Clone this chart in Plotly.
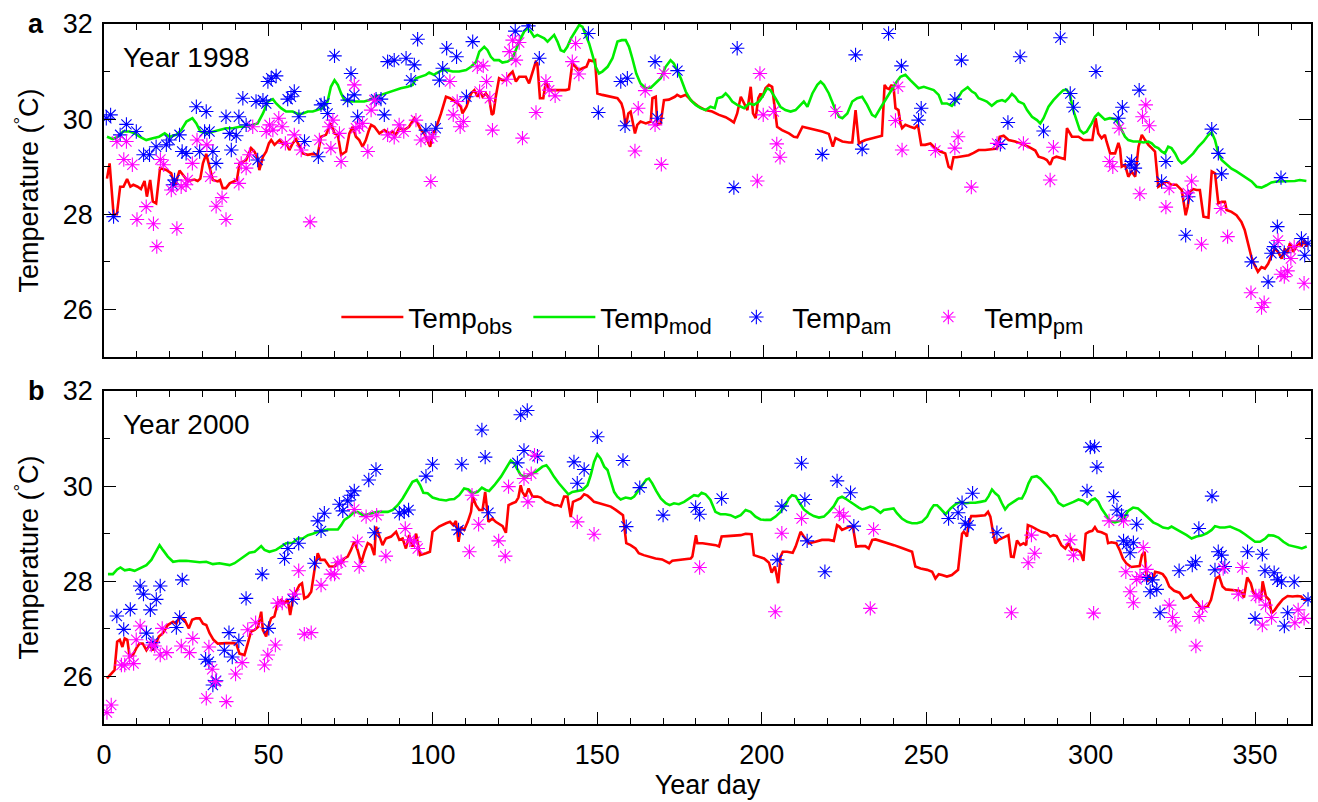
import plotly.graph_objects as go

# ---------------- Panel a : Year 1998 ----------------
obs98_day = [0.9,1.7,2.9,3.9,4.9,5.9,7.0,8.0,8.9,10.2,11.2,12.3,13.0,14.0,14.8,15.8,17.0,18.9,20.4,21.4,22.9,24.4,25.4,27.4,28.4,29.2,30.0,31.0,33.0,34.5,35.2,36.0,37.0,38.1,39.1,40.3,41.1,42.1,43.1,44.6,45.6,46.6,47.1,48.2,49.2,50.0,50.7,51.7,53.2,54.2,55.2,56.2,57.2,58.2,59.2,60.3,61.8,63.3,64.8,65.8,67.3,68.8,69.9,70.9,71.9,73.4,74.4,75.4,76.4,77.4,78.4,79.4,80.2,81.0,82.0,83.5,85.0,86.5,87.5,88.5,89.5,91.0,92.5,94.1,95.1,96.1,97.1,98.1,98.9,99.6,100.6,102.2,103.7,104.9,105.9,107.2,108.2,108.7,109.9,111.3,112.3,113.3,114.0,114.8,115.8,116.8,117.6,118.1,118.8,119.8,120.8,121.9,122.9,123.9,124.9,125.9,126.9,127.9,128.9,129.9,130.9,131.4,132.2,133.2,134.0,135.0,136.2,138.1,140.0,141.0,142.0,143.0,143.9,145.1,146.3,147.1,148.1,148.9,149.6,151.1,153.6,155.7,156.9,157.5,158.2,159.0,159.7,160.2,161.0,161.7,162.7,164.3,165.8,166.3,167.3,167.8,168.8,169.8,171.3,173.1,173.8,174.9,176.4,178.4,180.4,182.4,184.4,186.5,188.5,190.0,191.0,192.0,193.1,194.1,195.1,196.1,196.8,197.6,198.4,199.1,199.6,200.6,201.6,202.6,203.1,204.1,205.6,207.7,209.2,210.2,211.8,213.8,215.8,217.8,219.8,221.0,221.8,222.8,223.9,225.9,226.9,227.9,228.9,229.9,230.9,233.0,235.9,236.7,237.4,238.1,238.8,239.5,240.0,240.9,241.5,242.0,243.0,244.5,245.8,246.8,247.8,249.0,250.6,251.6,253.6,255.1,256.1,256.9,257.6,258.6,260.7,262.2,263.7,265.2,267.2,269.2,270.8,271.6,272.8,274.3,276.3,278.3,280.3,282.4,283.4,284.9,285.9,286.9,287.7,288.8,290.0,291.3,292.0,293.5,295.5,297.0,298.0,299.7,300.7,301.5,302.5,303.5,304.0,305.1,306.6,307.6,308.1,308.6,309.6,310.6,311.6,312.7,313.7,314.7,315.7,316.7,317.7,318.7,319.7,320.7,322.2,323.7,325.2,326.8,327.3,328.0,328.6,329.3,330.3,331.3,332.3,333.4,334.9,335.4,335.9,336.9,337.9,338.9,339.9,340.4,341.9,343.4,344.9,345.9,346.9,347.9,348.9,349.9,351.0,352.0,353.0,354.0,355.0,356.0,357.1,358.1,358.8,359.6,360.6,361.6,362.3,363.1,363.9,364.6,365.1]
obs98_temp = [28.75,29.07,28.0,28.0,28.58,28.58,28.74,28.58,28.62,28.58,28.53,28.70,28.37,28.72,28.27,28.23,28.97,28.93,28.86,28.58,28.92,28.80,28.70,28.73,28.70,28.75,29.07,29.27,28.72,28.69,28.72,28.55,28.55,28.65,28.69,28.72,29.07,29.11,29.14,29.39,29.32,29.18,28.93,29.21,29.32,29.49,29.56,29.46,29.56,29.48,29.51,29.35,29.49,29.58,29.42,29.28,29.25,29.27,29.25,29.63,29.67,29.91,29.70,29.67,29.25,29.32,29.70,29.84,29.63,29.56,29.42,29.56,29.74,29.88,29.84,29.70,29.77,29.70,29.74,29.67,29.81,29.77,29.84,30.02,29.91,29.77,29.70,29.56,29.42,29.67,29.80,30.12,30.47,30.44,30.40,30.33,30.26,30.12,30.26,30.54,30.61,30.47,30.61,30.47,30.54,30.44,30.09,30.12,30.47,30.86,30.82,30.82,30.93,31.00,30.79,30.89,30.89,30.89,30.75,30.96,31.20,31.17,30.44,30.44,30.79,30.61,30.61,30.61,30.61,30.63,31.17,31.10,31.03,31.07,31.10,31.24,31.22,31.24,30.54,30.51,30.47,30.44,30.33,30.19,29.84,30.12,30.16,29.95,29.70,29.88,29.95,29.91,29.95,30.44,30.47,29.88,29.91,30.40,30.41,30.47,30.51,30.47,30.51,30.37,30.26,30.19,30.16,30.09,30.04,29.98,29.93,30.12,30.47,30.33,30.19,30.68,30.12,30.02,30.44,30.54,30.46,30.65,30.72,30.68,30.40,29.84,29.77,29.70,29.63,29.62,29.84,29.81,29.77,29.74,29.69,29.42,29.60,29.56,29.53,29.51,29.51,30.19,29.49,29.53,29.56,29.60,29.65,30.72,30.65,30.63,30.72,30.61,30.23,30.19,29.91,29.81,29.88,29.84,29.81,29.88,29.46,29.46,29.49,29.42,29.32,29.28,29.00,28.96,29.20,29.20,29.22,29.24,29.29,29.35,29.35,29.37,29.38,29.63,29.65,29.56,29.53,29.48,29.42,29.34,29.21,29.18,29.14,29.04,29.18,29.21,29.18,29.16,29.81,29.63,29.63,29.56,29.56,29.56,30.02,29.70,29.60,29.67,29.53,29.28,29.28,29.50,29.38,29.00,29.04,28.79,28.90,28.79,29.42,29.67,29.56,29.46,29.39,29.32,28.58,28.62,28.69,28.62,28.62,28.51,28.30,27.98,28.16,28.48,28.53,28.51,28.51,27.95,27.93,28.44,28.90,28.86,28.23,28.26,28.26,28.09,28.05,27.98,27.84,27.67,27.39,27.11,26.93,26.79,26.89,26.86,26.96,27.11,27.28,27.21,27.07,27.28,27.18,27.39,27.21,27.32,27.42,27.32,27.46,27.32,27.42]

mod98_day = [0.9,2.7,4.2,5.8,7.8,9.3,10.8,12.8,14.8,16.7,18.4,19.9,21.9,23.4,25.0,26.8,28.0,29.2,31.0,33.0,35.0,37.0,39.1,41.1,43.1,45.1,46.6,48.2,49.7,51.2,52.2,53.7,55.2,57.2,58.8,60.3,61.8,63.3,64.8,66.3,67.8,68.8,69.9,70.9,71.9,72.9,74.4,75.9,77.4,78.9,80.5,82.0,84.0,86.0,88.0,90.0,92.1,93.6,94.6,96.1,97.6,98.6,100.1,100.6,101.6,102.6,104.1,105.7,107.7,109.8,111.3,112.8,113.8,115.3,116.3,117.3,118.3,119.8,120.8,122.4,123.9,124.9,125.9,127.4,128.4,129.4,130.4,131.4,132.4,133.5,134.5,135.5,136.5,137.5,138.5,139.5,140.5,141.6,143.1,144.1,145.1,146.1,147.1,148.1,149.1,150.1,151.1,152.7,154.2,155.7,157.0,158.2,159.2,160.2,161.4,162.7,164.3,165.8,167.3,168.8,170.3,171.8,172.8,173.8,174.9,176.4,177.9,179.4,180.9,182.4,183.9,185.2,186.0,187.5,188.5,189.5,190.5,192.0,194.1,195.6,197.1,198.6,199.6,201.1,202.1,203.6,205.1,206.6,208.2,209.7,211.2,212.2,213.3,214.8,216.3,217.3,218.3,219.8,221.4,222.9,223.9,225.4,226.9,228.4,229.9,231.4,232.9,233.9,235.4,236.9,238.4,240.0,241.5,243.0,244.5,246.0,247.0,248.6,250.0,251.6,253.1,254.1,255.6,257.1,258.6,260.1,261.9,263.2,264.2,265.2,266.7,267.7,269.2,270.8,272.3,273.3,274.3,275.3,276.3,277.3,278.9,279.9,281.4,282.9,283.9,284.9,286.4,287.9,289.4,290.9,291.9,292.9,293.9,294.9,295.9,297.0,298.0,299.5,300.5,301.5,302.5,303.5,305.0,306.6,307.6,308.6,309.6,310.6,312.1,313.6,315.2,316.7,317.7,318.7,319.7,320.7,321.7,322.7,323.7,324.8,325.8,326.8,327.8,328.8,330.3,331.8,333.4,334.9,335.9,336.9,337.9,338.9,340.4,341.9,343.4,344.9,346.5,348.0,349.5,351.0,352.5,354.0,355.5,357.6,359.1,361.1,362.6,364.6]
mod98_temp = [29.63,29.58,29.63,29.74,29.74,29.70,29.63,29.56,29.60,29.63,29.70,29.63,29.67,29.77,29.95,30.02,29.91,29.74,29.70,29.74,29.77,29.81,29.81,29.84,29.84,29.88,29.91,30.12,30.37,30.42,30.33,30.23,30.16,30.16,30.11,30.12,30.16,30.16,30.19,30.23,30.37,30.68,30.82,30.72,30.54,30.40,30.37,30.37,30.37,30.37,30.40,30.47,30.51,30.56,30.61,30.65,30.68,30.72,30.86,30.89,30.93,30.98,30.93,30.96,31.00,31.03,31.03,31.00,31.00,31.03,31.10,31.20,31.42,31.52,31.45,31.31,31.24,31.24,31.19,31.21,31.28,31.45,31.63,31.84,31.91,31.84,31.73,31.77,31.73,31.70,31.63,31.70,31.77,31.63,31.45,31.42,31.52,31.70,31.87,31.98,31.94,31.77,31.59,31.35,31.10,30.96,31.00,31.10,31.28,31.63,31.66,31.66,31.52,31.28,30.96,30.75,30.65,30.66,30.75,30.86,31.10,31.24,31.17,31.03,30.86,30.58,30.40,30.30,30.23,30.19,30.26,30.23,30.44,30.47,30.54,30.47,30.37,30.30,30.23,30.33,30.30,30.37,30.47,30.65,30.61,30.44,30.26,30.19,30.16,30.19,30.30,30.37,30.26,30.54,30.72,30.79,30.72,30.54,30.26,30.05,30.02,30.12,30.37,30.44,30.47,30.30,30.09,30.05,30.23,30.40,30.58,30.75,30.89,30.93,30.82,30.72,30.65,30.68,30.65,30.61,30.51,30.33,30.33,30.28,30.40,30.58,30.67,30.58,30.54,30.44,30.40,30.37,30.28,30.37,30.40,30.37,30.44,30.53,30.47,30.37,30.32,30.19,30.05,29.98,29.91,30.02,30.26,30.40,30.51,30.61,30.62,30.51,30.19,29.98,29.77,29.70,29.74,29.91,30.05,30.12,30.05,29.99,30.02,30.00,29.91,29.77,29.63,29.56,29.53,29.53,29.51,29.53,29.49,29.42,29.39,29.32,29.28,29.42,29.39,29.28,29.14,29.07,29.11,29.18,29.28,29.42,29.53,29.67,29.72,29.56,29.28,29.14,29.04,28.96,28.90,28.83,28.76,28.69,28.58,28.56,28.61,28.67,28.69,28.69,28.70,28.70,28.72,28.70]

am98_day = [0.7,2.0,2.9,4.9,6.8,9.8,12.0,13.8,15.8,18.9,19.9,20.9,21.4,22.9,23.7,24.9,28.0,29.0,30.5,31.0,32.0,33.0,34.0,37.0,38.1,38.6,40.1,40.9,42.1,43.1,46.1,46.6,48.2,49.2,49.7,50.7,52.2,55.7,56.7,57.7,59.1,60.8,65.0,65.8,66.8,67.8,69.9,73.9,74.9,75.9,76.9,82.5,84.0,85.0,86.0,88.0,91.6,93.1,94.1,95.1,97.6,100.6,101.7,102.7,103.9,106.9,109.9,111.8,124.7,128.7,132.0,146.9,149.9,156.7,158.0,158.7,167.1,167.8,173.9,191.0,192.0,217.8,227.9,229.9,237.9,241.8,247.0,247.8,258.0,260.0,271.8,274.1,277.8,284.9,290.0,293.0,294.0,300.8,307.6,308.8,311.1,311.6,312.6,313.9,320.7,322.0,328.0,328.8,335.9,337.9,338.9,348.0,353.0,354.0,354.8,355.8,356.9,357.9,363.1,364.1,365.1]
am98_temp = [30.02,30.09,27.95,29.67,29.89,29.74,29.25,29.25,29.42,29.46,29.56,28.62,28.72,29.67,29.32,29.28,30.26,29.32,29.74,30.16,29.74,29.32,29.07,30.05,29.70,29.35,29.65,30.05,30.44,29.88,30.37,29.14,30.40,30.33,30.79,30.86,30.91,30.42,30.47,30.58,30.05,29.53,29.21,30.30,30.33,30.12,31.33,30.40,30.96,30.51,30.05,30.42,30.42,30.09,31.21,31.24,31.28,30.82,31.14,31.68,29.77,29.81,30.82,31.07,31.49,31.31,30.47,31.63,31.85,31.96,31.28,31.80,30.14,30.79,29.86,30.86,31.21,30.02,31.02,28.56,31.49,29.26,31.35,29.37,31.80,31.12,29.98,30.23,30.42,31.24,29.47,29.93,31.31,29.75,31.71,30.54,30.25,31.00,30.02,30.25,29.04,29.11,28.97,30.61,28.69,29.11,27.56,28.37,29.79,29.28,28.85,27.00,26.58,27.18,27.32,27.74,28.77,27.19,27.49,27.14,27.39]

pm98_day = [3.9,6.0,6.8,8.6,10.0,12.8,15.0,16.0,17.1,18.1,20.4,22.1,23.4,24.9,25.4,26.8,28.2,31.2,32.2,34.0,35.8,37.0,40.9,41.6,43.1,44.1,45.1,49.2,50.2,51.2,53.0,54.0,55.0,57.7,59.8,62.5,65.3,68.3,68.8,69.4,71.4,71.9,75.9,76.4,77.4,78.4,80.0,81.0,82.0,86.0,88.0,89.5,90.9,94.6,96.1,98.6,99.1,99.6,104.9,105.9,107.1,108.0,109.0,113.2,113.9,115.0,116.0,117.0,117.8,122.1,122.9,123.9,124.9,125.9,126.9,131.0,134.0,135.0,136.8,142.0,143.0,144.0,161.0,162.0,164.1,167.1,169.0,169.8,198.1,198.9,199.9,203.1,204.0,205.0,221.8,240.0,240.8,242.0,252.1,258.0,259.0,263.0,270.8,278.8,286.9,287.9,304.9,305.9,307.8,314.1,314.9,315.9,317.0,322.0,323.0,328.6,329.8,332.8,338.7,340.7,347.8,351.0,351.8,356.0,356.9,357.9,358.9,359.9,360.9,363.9]
pm98_temp = [29.53,29.15,29.53,29.04,27.89,28.16,27.80,27.32,29.15,29.04,28.51,27.70,28.58,28.62,28.72,29.07,29.56,29.46,28.79,28.17,28.35,27.89,28.65,29.07,28.97,29.25,29.84,29.74,29.88,29.77,30.02,29.84,29.49,29.67,29.35,27.84,29.56,29.84,29.39,29.98,29.70,29.11,30.72,29.81,29.84,29.91,29.32,30.19,30.40,29.67,29.62,29.88,29.74,29.98,29.56,29.60,28.69,29.63,30.79,30.09,30.37,29.84,29.95,31.10,30.58,31.12,30.79,30.44,29.77,30.84,31.42,31.66,31.24,31.61,29.60,30.14,30.79,30.61,30.49,31.21,31.59,30.95,29.33,30.23,30.60,29.88,29.05,30.96,28.70,30.96,30.09,30.16,29.48,29.20,30.16,29.97,30.68,29.35,29.34,29.39,29.63,28.57,29.49,29.49,28.72,29.41,29.11,29.00,29.81,28.43,30.05,30.30,29.86,28.15,28.55,28.45,28.70,27.37,28.12,27.53,26.35,26.04,26.14,27.45,26.74,26.69,26.81,27.07,27.32,26.55]

# ---------------- Panel b : Year 2000 ----------------
obs00_day = [0.9,2.2,3.2,4.0,4.8,5.6,6.3,7.1,7.8,8.8,9.8,10.8,11.8,12.9,13.9,14.9,15.9,16.7,17.9,19.4,21.0,22.0,23.0,24.5,25.8,26.8,28.0,29.1,30.1,31.1,32.1,33.3,34.6,35.9,37.2,39.2,40.2,41.2,42.7,43.7,44.7,45.8,46.8,47.8,48.3,49.3,49.8,50.8,51.8,52.8,53.9,54.9,55.9,56.6,57.4,58.4,59.4,60.2,60.9,62.0,63.0,64.0,65.0,65.8,67.1,68.5,70.1,71.1,72.1,73.1,74.1,75.1,76.1,77.1,78.2,79.2,80.2,81.2,82.2,82.7,83.7,84.7,85.7,87.3,88.8,89.8,90.8,91.8,92.8,93.8,94.9,96.1,97.9,99.1,99.9,101.9,104.0,105.2,106.2,107.0,107.8,108.5,109.5,110.6,111.6,112.1,113.1,114.1,115.1,115.9,116.9,118.1,119.1,120.2,121.2,122.2,123.0,124.2,125.2,126.0,126.7,127.2,128.1,129.1,130.3,131.8,132.8,134.3,135.3,136.9,137.9,138.9,139.9,140.9,141.9,142.6,143.9,144.9,146.0,147.0,148.0,149.0,150.6,152.6,154.1,155.6,156.8,157.8,158.8,160.1,161.6,162.6,164.1,165.7,167.7,169.7,170.9,171.9,172.8,174.3,175.9,177.4,178.4,178.9,180.0,180.4,182.0,184.0,186.0,187.0,187.8,189.5,191.5,193.6,195.1,196.9,197.6,199.1,200.7,202.2,203.0,204.0,205.0,205.7,206.4,207.7,209.4,210.3,211.8,212.8,214.3,216.3,218.3,220.4,221.9,222.9,223.6,224.4,225.4,226.7,227.7,228.7,230.0,231.5,232.5,233.6,234.6,236.1,238.2,240.2,242.2,244.2,245.7,246.7,248.3,250.3,251.8,252.8,253.8,254.8,256.3,257.8,259.7,260.9,261.4,261.9,262.4,262.9,263.7,265.1,266.4,267.9,268.8,269.5,270.2,271.0,272.0,273.0,274.0,275.0,275.8,276.6,277.6,278.6,279.6,280.4,280.9,282.1,283.6,285.1,286.7,287.7,288.7,289.7,291.1,292.3,293.3,294.3,295.8,296.8,297.8,298.5,299.5,300.5,301.3,302.1,303.3,304.8,305.3,306.3,307.8,308.8,309.8,310.8,312.3,313.8,314.9,315.6,316.4,317.2,317.9,318.9,319.6,320.9,321.9,322.9,323.9,325.4,327.0,328.3,329.5,330.5,331.5,332.6,333.6,334.6,335.6,336.6,338.1,339.1,340.1,341.1,342.6,344.1,345.1,346.1,346.6,347.6,348.7,349.5,350.5,351.8,352.3,353.3,354.3,355.0,356.0,357.0,358.4,359.9,361.4,362.9,364.0,365.0,366.0]
obs00_temp = [25.96,26.06,26.13,26.73,26.77,26.62,26.80,26.77,26.41,26.45,26.59,26.69,26.69,26.55,26.66,26.55,26.73,26.84,26.91,27.08,27.15,27.11,27.26,27.19,27.01,27.19,27.22,27.22,27.11,27.08,26.91,26.77,26.69,26.70,26.70,26.70,26.69,26.48,26.45,26.69,26.94,26.98,27.04,27.36,26.98,26.84,27.01,27.22,27.26,27.54,27.61,27.54,27.61,27.29,27.61,27.78,27.92,27.96,27.64,27.68,27.78,28.24,28.59,28.45,28.45,28.31,28.31,28.41,28.38,28.48,28.52,28.66,28.83,28.66,28.38,28.62,28.80,28.76,28.55,29.15,28.94,28.76,28.90,28.94,29.04,28.87,28.90,28.69,28.97,28.73,29.00,28.55,28.59,28.62,29.04,29.15,29.22,29.25,29.18,29.27,28.83,29.14,29.08,29.25,29.46,29.78,29.60,29.50,29.50,29.88,29.25,29.32,29.25,29.21,29.16,29.02,29.60,29.64,29.67,29.76,30.02,29.88,29.78,29.95,29.78,29.78,29.76,29.67,29.65,29.60,29.60,29.57,29.78,29.78,29.35,29.67,29.71,29.74,29.83,29.80,29.74,29.67,29.64,29.60,29.57,29.50,29.43,29.39,28.80,28.76,28.69,28.59,28.55,28.52,28.48,28.46,28.41,28.38,28.43,28.44,28.45,28.46,28.48,28.52,28.97,28.80,28.80,28.78,28.76,28.73,28.94,28.95,28.96,28.97,29.00,28.99,28.55,28.52,28.48,28.39,28.18,28.31,27.96,28.52,28.62,28.62,28.60,28.73,29.04,28.94,28.80,28.83,28.87,28.87,28.85,29.18,29.15,29.08,29.11,29.15,29.15,28.73,28.74,28.74,28.69,28.87,28.88,28.85,28.81,28.76,28.71,28.66,28.62,28.31,28.27,28.24,28.20,28.06,28.15,28.13,28.10,28.13,28.24,29.00,29.04,29.00,28.94,29.22,29.37,29.37,29.38,29.39,29.46,29.36,29.08,28.80,28.87,28.90,28.94,28.97,28.52,28.51,28.86,28.76,28.80,28.76,29.18,29.15,29.09,29.04,29.01,28.94,28.97,28.95,28.76,28.69,28.80,28.66,28.66,28.62,28.43,29.00,29.04,29.06,29.14,29.05,29.03,28.98,28.80,28.82,28.80,28.66,28.48,28.38,28.30,28.31,28.32,28.55,28.62,27.99,28.10,28.01,28.20,28.18,28.15,28.06,27.89,27.80,27.76,27.64,27.66,27.71,27.61,27.54,27.43,27.45,27.47,27.61,28.06,28.10,27.89,27.83,27.82,27.82,27.80,27.75,27.66,28.08,27.96,27.75,27.71,27.61,28.00,27.68,27.61,27.33,27.40,27.50,27.62,27.69,27.68,27.69,27.68,27.61,27.62]

mod00_day = [1.2,2.7,4.0,5.0,6.3,7.8,9.3,10.8,12.9,14.4,15.7,16.9,17.9,19.4,21.0,23.0,25.0,27.0,29.1,31.1,33.1,35.1,37.2,38.2,39.7,41.2,42.7,44.2,45.8,47.1,47.8,48.8,50.3,52.3,53.9,55.4,57.4,58.9,60.4,62.0,63.5,65.0,66.5,68.0,69.5,71.1,72.1,73.1,74.6,75.8,77.1,78.7,80.2,81.7,83.2,84.7,86.3,87.8,89.3,90.8,92.3,93.8,95.1,96.1,97.1,98.4,99.9,101.9,104.0,105.0,106.5,108.0,109.5,110.8,112.1,113.6,114.9,116.1,117.1,118.7,120.7,122.2,123.7,124.7,125.7,126.7,128.3,129.8,131.3,133.3,134.5,135.5,136.8,138.3,139.9,141.2,142.4,143.9,145.5,147.0,148.0,149.0,150.0,151.0,152.1,153.1,154.1,155.1,156.1,157.1,158.6,160.2,161.2,162.2,163.7,164.9,165.7,166.7,167.9,169.3,170.8,172.0,173.3,174.8,176.4,177.9,179.4,180.7,181.7,182.9,184.4,185.9,187.4,189.0,190.5,192.0,193.6,195.1,196.6,198.1,199.6,201.1,202.7,204.2,205.7,207.2,208.2,209.2,210.3,211.3,212.8,214.3,215.8,217.4,218.9,220.4,221.9,223.2,224.4,225.4,226.7,228.0,229.5,230.5,231.5,233.0,234.0,235.1,236.1,237.1,238.6,240.1,241.1,242.6,244.2,245.7,247.2,248.7,250.3,251.3,252.3,253.3,254.3,255.9,257.4,258.9,260.4,261.9,263.4,264.9,266.5,268.0,269.0,270.0,271.0,272.0,273.0,274.0,275.0,276.6,278.1,279.1,280.1,281.1,282.1,283.6,284.7,286.0,287.7,289.2,290.2,291.7,293.3,294.8,296.3,297.8,299.1,300.3,301.3,302.3,303.3,304.6,305.9,307.4,308.9,310.4,311.4,312.9,314.4,315.9,317.5,319.0,320.5,322.0,323.6,324.6,326.1,327.6,329.2,330.7,332.2,333.7,335.3,336.8,337.8,339.3,340.8,342.4,343.9,345.4,346.9,348.5,350.0,351.5,353.1,354.1,355.6,357.1,358.6,360.2,361.7,363.2,364.2,365.7]
mod00_temp = [28.15,28.15,28.25,28.29,28.23,28.25,28.22,28.27,28.34,28.45,28.62,28.76,28.66,28.52,28.41,28.43,28.43,28.41,28.40,28.41,28.36,28.38,28.36,28.34,28.38,28.45,28.52,28.60,28.62,28.69,28.74,28.66,28.62,28.66,28.73,28.80,28.81,28.90,28.90,28.97,29.00,29.04,29.06,29.09,29.09,29.09,29.18,29.29,29.36,29.44,29.46,29.39,29.41,29.43,29.46,29.46,29.46,29.50,29.60,29.74,29.92,30.09,30.13,30.02,29.86,29.85,29.76,29.72,29.70,29.72,29.73,29.81,29.95,29.93,29.85,29.88,29.97,29.92,29.90,30.02,30.20,30.37,30.54,30.48,30.34,30.23,30.20,30.25,30.30,30.41,30.44,30.35,30.20,30.06,29.93,29.83,29.88,29.90,29.92,30.02,30.23,30.51,30.67,30.58,30.41,30.34,30.13,29.88,29.78,29.72,29.76,29.74,29.78,29.88,30.02,30.14,30.16,30.06,29.90,29.74,29.64,29.60,29.64,29.62,29.67,29.74,29.81,29.79,29.86,29.83,29.71,29.46,29.41,29.41,29.39,29.34,29.39,29.50,29.46,29.36,29.30,29.29,29.29,29.36,29.46,29.60,29.74,29.81,29.79,29.67,29.51,29.43,29.37,29.34,29.36,29.46,29.58,29.74,29.78,29.74,29.67,29.62,29.55,29.51,29.53,29.57,29.55,29.50,29.44,29.50,29.51,29.53,29.43,29.32,29.25,29.22,29.22,29.25,29.36,29.50,29.60,29.60,29.53,29.41,29.53,29.62,29.67,29.64,29.65,29.65,29.67,29.69,29.79,29.93,29.85,29.79,29.64,29.51,29.60,29.67,29.74,29.74,29.87,30.06,30.19,30.21,30.16,30.06,29.93,29.78,29.65,29.58,29.62,29.67,29.72,29.69,29.62,29.71,29.74,29.67,29.53,29.40,29.27,29.24,29.27,29.36,29.48,29.55,29.53,29.44,29.34,29.24,29.19,29.13,29.11,29.15,29.09,29.04,28.97,28.90,28.94,28.96,29.01,29.08,29.16,29.13,29.13,29.15,29.11,29.06,28.99,28.90,28.83,28.83,28.90,28.97,28.96,28.92,28.83,28.76,28.74,28.71,28.69,28.73]

am00_day = [3.9,6.0,8.0,11.0,12.0,12.9,14.1,14.9,15.9,17.1,22.0,23.0,23.8,30.9,31.9,33.1,34.1,36.6,38.0,39.0,41.0,43.2,48.1,50.1,54.9,55.9,57.4,59.2,64.0,65.0,66.0,67.0,71.6,72.6,74.1,75.1,76.1,80.5,82.2,82.7,89.8,91.3,92.6,97.9,99.9,107.8,108.8,114.9,115.9,116.9,125.7,126.7,127.7,128.7,131.8,142.9,143.9,146.0,150.0,157.8,158.8,162.9,170.0,179.9,181.1,187.8,204.7,206.1,212.1,213.1,213.8,219.2,222.9,227.0,228.0,256.8,259.7,260.9,261.9,262.9,264.1,271.5,298.9,299.9,301.2,301.9,307.0,308.0,309.4,310.0,311.0,312.0,313.0,314.0,317.0,318.1,318.8,320.1,321.1,326.9,330.9,331.9,332.9,336.9,337.8,338.8,339.8,340.8,347.7,350.0,352.2,353.0,355.8,356.8,358.0,358.9,359.9,361.9,366.1]
am00_temp = [27.27,26.99,27.41,27.90,27.73,26.91,27.40,26.71,27.62,27.90,27.03,27.24,28.03,26.36,26.31,25.82,25.91,26.55,26.92,26.41,26.75,27.64,28.15,27.01,28.48,28.69,27.62,28.80,28.38,29.27,29.06,29.43,29.62,29.48,29.69,29.81,29.90,30.13,29.02,30.35,29.43,29.46,29.50,30.21,30.46,29.08,30.46,31.18,30.61,29.44,30.49,31.50,30.75,31.59,30.63,30.51,30.06,30.35,31.04,30.54,29.15,29.97,29.39,29.55,29.41,29.74,28.45,29.58,30.48,29.72,28.85,28.20,30.11,29.86,29.16,29.32,29.44,29.65,29.22,29.18,29.85,29.02,29.90,30.82,30.83,30.40,29.78,29.50,29.39,28.85,28.78,28.60,28.81,29.20,28.08,27.78,28.03,27.83,27.34,28.22,28.34,28.41,29.11,29.79,28.24,28.62,28.55,28.31,28.62,27.22,28.57,28.22,28.18,28.03,27.99,27.06,27.34,27.99,27.62]

pm00_day = [0.9,2.2,5.3,6.3,7.8,9.0,9.8,11.0,14.4,15.4,17.1,17.7,19.1,23.5,26.0,27.0,31.1,31.9,32.9,33.9,37.2,40.0,42.0,43.7,46.1,48.8,49.8,52.1,52.8,54.2,57.9,59.2,60.9,63.0,66.0,69.0,70.1,71.1,72.1,76.1,77.1,77.6,79.7,82.9,85.7,91.6,93.0,94.4,95.4,111.1,111.9,113.9,120.0,122.0,123.0,127.7,128.9,129.9,130.9,143.9,149.0,181.1,204.1,206.1,212.1,223.6,224.9,233.0,234.0,275.9,281.0,282.0,283.0,293.8,294.8,300.9,305.6,310.0,310.7,312.0,313.0,314.0,315.0,316.0,317.0,323.9,324.9,325.9,332.0,333.0,334.0,340.3,344.9,346.1,350.2,351.2,352.2,353.2,355.0,362.1,363.1,364.9]
pm00_temp = [25.24,25.40,26.24,26.24,26.43,26.27,26.77,27.06,26.66,26.64,26.45,27.01,26.50,26.64,26.50,26.80,25.54,26.62,26.15,25.89,25.47,26.05,26.29,26.98,27.13,26.24,26.45,26.66,27.54,27.54,27.73,28.22,26.89,26.92,27.92,28.15,28.15,28.39,28.41,29.51,28.83,28.31,29.36,29.39,28.53,29.11,28.87,28.83,28.69,28.62,29.81,29.20,28.85,28.53,29.99,30.16,29.67,30.26,30.65,29.25,28.99,28.29,27.36,29.01,29.32,29.44,29.37,27.43,29.09,27.34,28.39,28.97,28.59,28.87,28.55,27.33,29.27,29.27,28.20,27.78,27.55,28.04,28.10,28.71,28.25,27.50,27.24,27.06,26.64,27.26,27.45,28.27,27.73,28.29,27.69,27.69,27.08,27.50,27.24,27.13,27.40,27.22]

# ---------------- Styling constants ----------------
FONT = "Liberation Sans, Arial, Helvetica, sans-serif"
RED, GREEN, BLUE, MAGENTA = "#ff0000", "#00ee00", "#0000ff", "#ff00ff"
LINE_W = 2.6
MSIZE = 12

SUB = '<sub><span style="font-size:22px">{}</span></sub>'
names = ["Temp" + SUB.format("obs"), "Temp" + SUB.format("mod"),
         "Temp" + SUB.format("am"), "Temp" + SUB.format("pm")]

fig = go.Figure()

panels = [
    ("x", "y", obs98_day, obs98_temp, mod98_day, mod98_temp, am98_day, am98_temp, pm98_day, pm98_temp, True),
    ("x2", "y2", obs00_day, obs00_temp, mod00_day, mod00_temp, am00_day, am00_temp, pm00_day, pm00_temp, False),
]
for xa, ya, od, ot, md, mt, ad, at, pd_, pt, showleg in panels:
    fig.add_trace(go.Scatter(x=od, y=ot, mode="lines", name=names[0], line=dict(color=RED, width=LINE_W),
                             xaxis=xa, yaxis=ya, showlegend=showleg))
    fig.add_trace(go.Scatter(x=md, y=mt, mode="lines", name=names[1], line=dict(color=GREEN, width=LINE_W),
                             xaxis=xa, yaxis=ya, showlegend=showleg))
    fig.add_trace(go.Scatter(x=ad, y=at, mode="markers", name=names[2],
                             marker=dict(symbol="asterisk-open", size=MSIZE, color=BLUE,
                                         line=dict(color=BLUE, width=1.1)),
                             xaxis=xa, yaxis=ya, showlegend=showleg))
    fig.add_trace(go.Scatter(x=pd_, y=pt, mode="markers", name=names[3],
                             marker=dict(symbol="asterisk-open", size=MSIZE, color=MAGENTA,
                                         line=dict(color=MAGENTA, width=1.1)),
                             xaxis=xa, yaxis=ya, showlegend=showleg))

common_axis = dict(
    showline=True, linecolor="black", linewidth=1.5, mirror="ticks",
    ticks="inside", tickcolor="black", tickwidth=1.2, ticklen=12,
    showgrid=False, zeroline=False,
    tickfont=dict(family=FONT, size=27, color="black"),
)

xminor = dict(dtick=10, ticks="inside", ticklen=6, tickcolor="black", tickwidth=1.2, showgrid=False)
yminor = dict(dtick=1, ticks="inside", ticklen=6, tickcolor="black", tickwidth=1.2, showgrid=False)

fig.update_layout(
    width=1318, height=802,
    margin=dict(l=104, r=5, t=24, b=78),
    paper_bgcolor="white", plot_bgcolor="white",
    font=dict(family=FONT, size=27, color="black"),
    xaxis=dict(common_axis, range=[0, 366], dtick=50, tick0=0, minor=xminor,
               showticklabels=False, anchor="y"),
    yaxis=dict(common_axis, range=[25, 32], dtick=2, tick0=26, minor=yminor,
               domain=[0.5243, 1.0], anchor="x", ticklabelstandoff=4,
               title=dict(text="Temperature (<sup>°</sup>C)", font=dict(family=FONT, size=27), standoff=16)),
    xaxis2=dict(common_axis, range=[0, 367], dtick=50, tick0=0, minor=xminor,
                anchor="y2", ticklabelstandoff=6,
                title=dict(text="Year day", font=dict(family=FONT, size=27), standoff=6)),
    yaxis2=dict(common_axis, range=[25, 32], dtick=2, tick0=26, minor=yminor,
                domain=[0.0, 0.4757], anchor="x2", ticklabelstandoff=4,
                title=dict(text="Temperature (<sup>°</sup>C)", font=dict(family=FONT, size=27), standoff=16)),
    legend=dict(orientation="h", x=0.1925, y=0.581, xanchor="left", yanchor="middle",
                bgcolor="rgba(0,0,0,0)", borderwidth=0, itemwidth=62,
                entrywidth=115, entrywidthmode="pixels",
                font=dict(family=FONT, size=28, color="black"), traceorder="normal"),
    annotations=[
        dict(text="<b>a</b>", xref="paper", yref="paper", x=-0.0645, y=1.0, xanchor="left", yanchor="middle",
             showarrow=False, font=dict(family=FONT, size=27)),
        dict(text="<b>b</b>", xref="paper", yref="paper", x=-0.0645, y=0.4757, xanchor="left", yanchor="middle",
             showarrow=False, font=dict(family=FONT, size=27)),
        dict(text="Year 1998", xref="x", yref="y", x=5.2, y=31.3, xanchor="left", yanchor="middle",
             showarrow=False, font=dict(family=FONT, size=28)),
        dict(text="Year 2000", xref="x2", yref="y2", x=5.2, y=31.3, xanchor="left", yanchor="middle",
             showarrow=False, font=dict(family=FONT, size=28)),
    ],
)

fig.write_html("out.html")
